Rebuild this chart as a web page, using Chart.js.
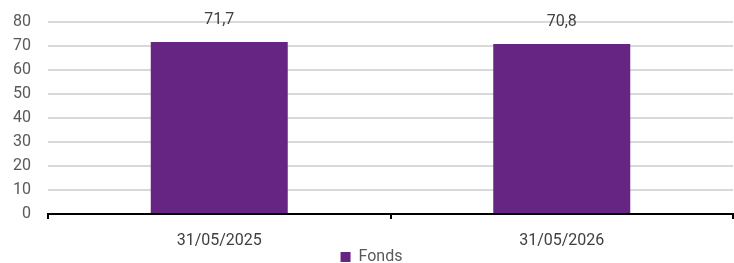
<!DOCTYPE html>
<html>
<head>
<meta charset="utf-8">
<script src="https://cdn.jsdelivr.net/npm/chart.js@4/dist/chart.umd.min.js"></script>
<style>
  html, body { margin: 0; padding: 0; background: #fff; }
  #wrap { width: 734px; height: 263px; }
</style>
</head>
<body>
<div id="wrap"><canvas id="chart" width="734" height="263"></canvas></div>
<script>
const categories = ["31/05/2025", "31/05/2026"];
const fondsValues = [71.7, 70.8];
const seriesLabel = "Fonds";

const purple = "#662483";
const textGrey = "#595959";

// value labels above the bars, with a decimal comma
const barLabels = {
  id: 'barLabels',
  afterDatasetsDraw(chart) {
    const ctx = chart.ctx;
    const meta = chart.getDatasetMeta(0);
    ctx.save();
    ctx.font = "16px Roboto";
    ctx.fillStyle = "#404040";
    ctx.textAlign = "center";
    ctx.textBaseline = "middle";
    meta.data.forEach((bar, i) => {
      const txt = fondsValues[i].toFixed(1).replace('.', ',');
      ctx.fillText(txt, bar.x, bar.y - 22);
    });
    ctx.restore();
  }
};

new Chart(document.getElementById('chart'), {
  type: 'bar',
  data: {
    labels: categories,
    datasets: [{
      label: seriesLabel,
      data: fondsValues,
      backgroundColor: purple,
      borderWidth: 0,
      categoryPercentage: 0.4,
      barPercentage: 1.0
    }]
  },
  options: {
    responsive: false,
    animation: false,
    layout: { padding: { top: 22, right: 1, left: 10, bottom: -12 } },
    plugins: {
      legend: {
        display: true,
        position: 'bottom',
        labels: {
          boxWidth: 10,
          boxHeight: 10,
          padding: 2,
          color: textGrey,
          font: { family: 'Roboto', size: 16 }
        }
      },
      tooltip: { enabled: false }
    },
    scales: {
      x: {
        grid: { drawOnChartArea: false, drawTicks: true, tickLength: 5, color: '#000', lineWidth: 2 },
        border: { display: true, color: '#000', width: 2 },
        ticks: { color: '#404040', padding: 12, font: { family: 'Roboto', size: 16 } },
        afterFit(scale) { scale.height = 33; scale.paddingLeft = 0; scale.paddingRight = 0; }
      },
      y: {
        min: 0,
        max: 80,
        grid: { color: '#d9d9d9', lineWidth: 2, drawTicks: false },
        border: { display: false },
        ticks: { stepSize: 10, color: textGrey, padding: 17, font: { family: 'Roboto', size: 16 } },
        afterFit(scale) { scale.width = 38; scale.paddingTop = 0; scale.paddingBottom = 0; }
      }
    }
  },
  plugins: [barLabels]
});
</script>
</body>
</html>
